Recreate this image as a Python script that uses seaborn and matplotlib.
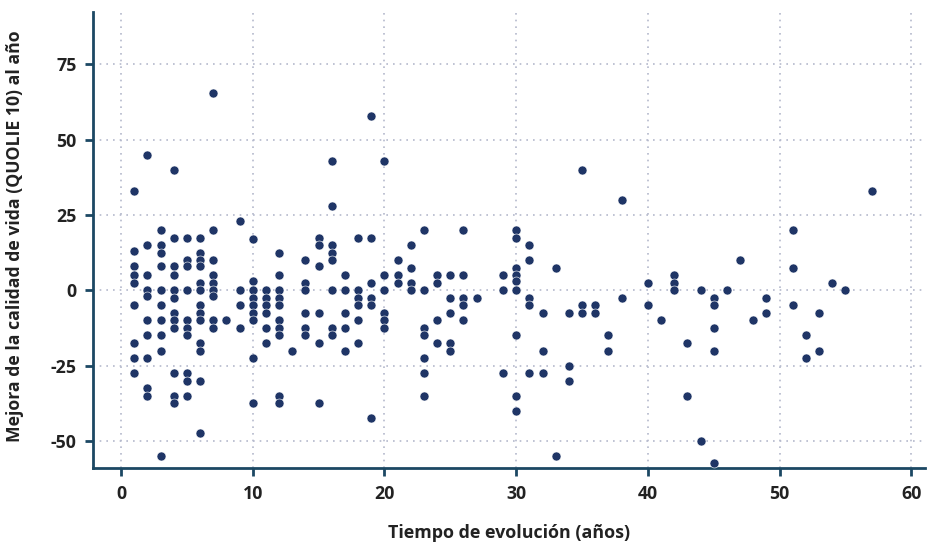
import matplotlib
matplotlib.use("Agg")
import matplotlib.pyplot as plt
import seaborn as sns
import pandas as pd

# Data (x = years of evolution, y = QOLIE-10 improvement)
anios = (
    [1] * 9 + [2] * 10 + [3] * 10 + [4] * 12 + [5] * 10 + [6] * 13 + [7] * 9 + [8] * 1
    + [9] * 4 + [10] * 9 + [11] * 6 + [12] * 10 + [13] * 1 + [14] * 6 + [15] * 6
    + [16] * 8 + [17] * 5 + [18] * 6 + [19] * 6 + [20] * 6 + [21] * 3 + [22] * 4
    + [23] * 7 + [24] * 4 + [25] * 5 + [26] * 5 + [27] * 1 + [29] * 3 + [30] * 9
    + [31] * 5 + [32] * 3 + [33] * 2 + [34] * 3 + [35] * 3 + [36] * 2 + [37] * 2
    + [38] * 2 + [40] * 2 + [41] * 1 + [42] * 3 + [43] * 2 + [44] * 2 + [45] * 5
    + [46] * 1 + [47] * 1 + [48] * 1 + [49] * 2 + [51] * 3 + [52] * 2 + [53] * 2
    + [54] * 1 + [55] * 1 + [57] * 1
)
mejora = [
    33, 13, 8, 5, 2.5, -5, -17.5, -22.5, -27.5,                    # 1
    45, 15, 5, 0, -2, -10, -15, -22.5, -32.5, -35,                  # 2
    20, 15, 12.5, 8, 0, -5, -10, -15, -20, -55,                     # 3
    40, 17.5, 8, 5, 0, -2.5, -7.5, -10, -12.5, -27.5, -35, -37.5,   # 4
    17.5, 10, 8, 0, -10, -12.5, -15, -27.5, -30, -35,               # 5
    17.5, 12.5, 10, 8, 2.5, 0, -5, -7.5, -10, -17.5, -20, -30, -47.5,  # 6
    65.5, 20, 10, 5, 2.5, 0, -2, -10, -12.5,                        # 7
    -10,                                                            # 8
    23, 0, -5, -12.5,                                               # 9
    17, 3, 0, -2.5, -5, -7.5, -10, -22.5, -37.5,                    # 10
    0, -2.5, -5, -7.5, -12.5, -17.5,                                # 11
    12.5, 5, 0, -2.5, -5, -10, -12.5, -15, -35, -37.5,              # 12
    -20,                                                            # 13
    10, 2.5, 0, -7.5, -12.5, -15,                                   # 14
    17.5, 15, 8, -7.5, -17.5, -37.5,                                # 15
    43, 28, 15, 12.5, 10, 0, -12.5, -15,                            # 16
    5, 0, -7.5, -12.5, -20,                                         # 17
    17.5, 0, -2.5, -5, -10, -17.5,                                  # 18
    58, 17.5, 2.5, -2.5, -5, -42.5,                                 # 19
    43, 5, 0, -7.5, -10, -12.5,                                     # 20
    10, 5, 2.5,                                                     # 21
    15, 7.5, 2.5, 0,                                                # 22
    20, 0, -12.5, -15, -22.5, -27.5, -35,                           # 23
    5, 2.5, -10, -17.5,                                             # 24
    5, -2.5, -7.5, -17.5, -20,                                      # 25
    20, 5, -2.5, -5, -10,                                           # 26
    -2.5,                                                           # 27
    5, 0, -27.5,                                                    # 29
    20, 17.5, 7.5, 5, 3, 0, -15, -35, -40,                          # 30
    15, 10, -2.5, -5, -27.5,                                        # 31
    -7.5, -20, -27.5,                                               # 32
    7.5, -55,                                                       # 33
    -7.5, -25, -30,                                                 # 34
    40, -5, -7.5,                                                   # 35
    -5, -7.5,                                                       # 36
    -15, -20,                                                       # 37
    30, -2.5,                                                       # 38
    2.5, -5,                                                        # 40
    -10,                                                            # 41
    5, 2.5, 0,                                                      # 42
    -17.5, -35,                                                     # 43
    0, -50,                                                         # 44
    -2.5, -5, -12.5, -20, -57.5,                                    # 45
    0,                                                              # 46
    10,                                                             # 47
    -10,                                                            # 48
    -2.5, -7.5,                                                     # 49
    20, 7.5, -5,                                                    # 51
    -15, -22.5,                                                     # 52
    -7.5, -20,                                                      # 53
    2.5,                                                            # 54
    0,                                                              # 55
    33,                                                             # 57
]
x_ticks = [0, 10, 20, 30, 40, 50, 60]
y_ticks = [-50, -25, 0, 25, 50, 75]
x_label = "Tiempo de evolución (años)"
y_label = "Mejora de la calidad de vida (QUOLIE 10) al año"

df = pd.DataFrame({"x": anios, "y": mejora})

sns.set_theme(style="white")
plt.rcParams["font.family"] = ["Open Sans", "DejaVu Sans"]
plt.rcParams["axes.unicode_minus"] = False

spine_col = "#1c4863"
dot_col = "#1f3566"
grid_col = "#b4b9cc"
text_col = "#222222"

fig = plt.figure(figsize=(9.27, 5.44), dpi=100)
ax = fig.add_axes([0.1007, 0.1397, 0.8973, 0.8383])

sns.scatterplot(data=df, x="x", y="y", ax=ax, color=dot_col, s=42,
                edgecolor="white", linewidth=0.4, zorder=3)

ax.set_xlim(-2.1, 61.05)
ax.set_ylim(-59, 92.4)
ax.set_xticks(x_ticks)
ax.set_yticks(y_ticks)

ax.grid(True, color=grid_col, linestyle=(0, (1, 3)), linewidth=1.2)
ax.set_axisbelow(True)

for s in ["top", "right"]:
    ax.spines[s].set_visible(False)
for s in ["left", "bottom"]:
    ax.spines[s].set_color(spine_col)
    ax.spines[s].set_linewidth(2)

ax.tick_params(axis="both", which="both", direction="out", length=6, width=2,
               color=spine_col, labelsize=12.8, labelcolor=text_col, pad=6,
               left=True, bottom=True)
for lab in ax.get_xticklabels() + ax.get_yticklabels():
    lab.set_fontweight("bold")

ax.set_xlabel("")
ax.set_ylabel("")
fig.text(0.5 * (0.1007 + 0.998), 1 - 533 / 544, x_label, fontsize=12.9,
         fontweight="bold", color=text_col, ha="center", va="center")
fig.text(15 / 927, 1 - 236 / 544, y_label, fontsize=12.7, fontweight="bold",
         color=text_col, ha="center", va="center", rotation=90)

fig.savefig("out.png", dpi=100)
